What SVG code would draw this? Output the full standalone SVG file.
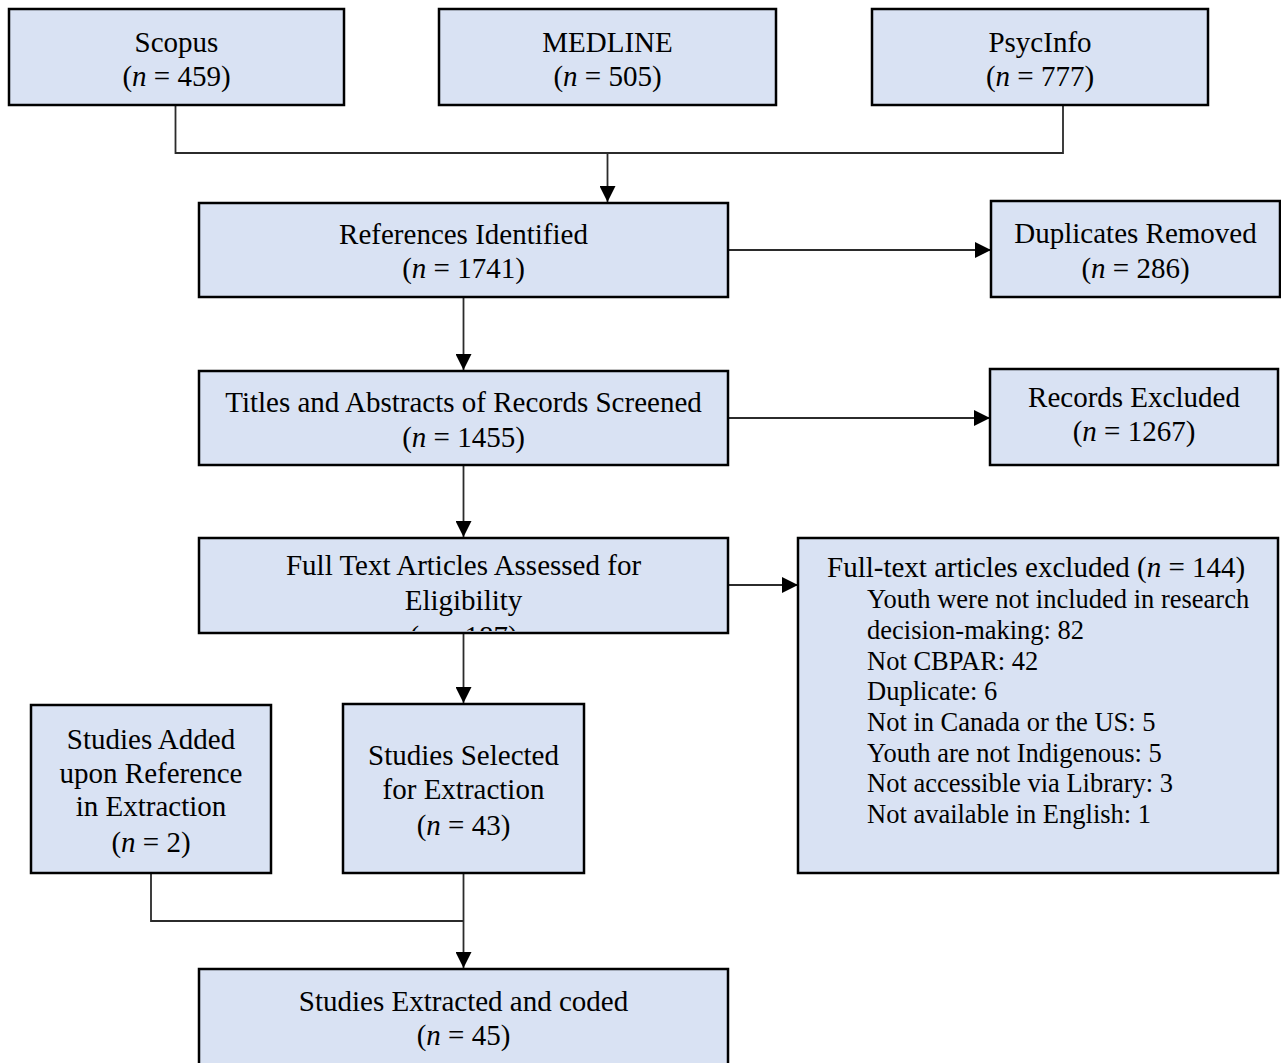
<svg xmlns="http://www.w3.org/2000/svg" width="1281" height="1063" viewBox="0 0 1281 1063">
<style>
.box{fill:#D9E2F3;stroke:#000;stroke-width:2.5}
.t{font-family:"Liberation Serif","Times New Roman",serif;font-size:29px;fill:#000;text-anchor:middle}
.l{font-family:"Liberation Serif","Times New Roman",serif;font-size:26.5px;fill:#000}
.h{font-family:"Liberation Serif","Times New Roman",serif;font-size:29px;fill:#000}
.i{font-style:italic}
.c{fill:none;stroke:#2b2b2b;stroke-width:1.8}
</style>
<defs>
<marker id="arr" markerUnits="userSpaceOnUse" markerWidth="16" markerHeight="16" refX="16" refY="8" orient="auto">
<path d="M0,0 L16,8 L0,16 z" fill="#000"/>
</marker>
<clipPath id="clipFT"><rect x="199" y="538" width="529" height="93"/></clipPath>
</defs>
<g id="connectors">
<path class="c" d="M175.5 105 V153 H1063 V105"/>
<path class="c" d="M607.5 153 V202" marker-end="url(#arr)"/>
<path class="c" d="M728 250 H991" marker-end="url(#arr)"/>
<path class="c" d="M463.5 297 V370" marker-end="url(#arr)"/>
<path class="c" d="M728 418 H990" marker-end="url(#arr)"/>
<path class="c" d="M463.5 465 V537" marker-end="url(#arr)"/>
<path class="c" d="M728 585 H798" marker-end="url(#arr)"/>
<path class="c" d="M463.5 633 V703" marker-end="url(#arr)"/>
<path class="c" d="M151 873 V921 H463.5"/>
<path class="c" d="M463.5 873 V968" marker-end="url(#arr)"/>
</g>
<g id="scopus">
<rect class="box" x="9" y="9" width="335" height="96"/>
<text class="t" x="176.5" y="52">Scopus</text>
<text class="t" x="176.5" y="86">(<tspan class="i">n</tspan> = 459)</text>
</g>
<g id="medline">
<rect class="box" x="439" y="9" width="337" height="96"/>
<text class="t" x="607.5" y="52">MEDLINE</text>
<text class="t" x="607.5" y="86">(<tspan class="i">n</tspan> = 505)</text>
</g>
<g id="psycinfo">
<rect class="box" x="872" y="9" width="336" height="96"/>
<text class="t" x="1040" y="52">PsycInfo</text>
<text class="t" x="1040" y="86">(<tspan class="i">n</tspan> = 777)</text>
</g>
<g id="references">
<rect class="box" x="199" y="203" width="529" height="94"/>
<text class="t" x="463.5" y="244">References Identified</text>
<text class="t" x="463.5" y="278">(<tspan class="i">n</tspan> = 1741)</text>
</g>
<g id="duplicates">
<rect class="box" x="991" y="201" width="289" height="96"/>
<text class="t" x="1135.5" y="243">Duplicates Removed</text>
<text class="t" x="1135.5" y="278">(<tspan class="i">n</tspan> = 286)</text>
</g>
<g id="titles">
<rect class="box" x="199" y="371" width="529" height="94"/>
<text class="t" x="463.5" y="412">Titles and Abstracts of Records Screened</text>
<text class="t" x="463.5" y="447">(<tspan class="i">n</tspan> = 1455)</text>
</g>
<g id="records-excluded">
<rect class="box" x="990" y="369" width="288" height="96"/>
<text class="t" x="1134" y="407">Records Excluded</text>
<text class="t" x="1134" y="441">(<tspan class="i">n</tspan> = 1267)</text>
</g>
<g id="fulltext">
<rect class="box" x="199" y="538" width="529" height="95"/>
<g clip-path="url(#clipFT)">
<text class="t" x="463.5" y="575">Full Text Articles Assessed for</text>
<text class="t" x="463.5" y="610">Eligibility</text>
<text class="t" x="463.5" y="646">(<tspan class="i">n</tspan> = 187)</text>
</g>
</g>
<g id="fulltext-excluded">
<rect class="box" x="798" y="538" width="480" height="335"/>
<text class="h" x="827" y="577">Full-text articles excluded (<tspan class="i">n</tspan> = 144)</text>
<text class="l" x="867" y="608">Youth were not included in research</text>
<text class="l" x="867" y="639">decision-making: 82</text>
<text class="l" x="867" y="669.5">Not CBPAR: 42</text>
<text class="l" x="867" y="700">Duplicate: 6</text>
<text class="l" x="867" y="731">Not in Canada or the US: 5</text>
<text class="l" x="867" y="761.5">Youth are not Indigenous: 5</text>
<text class="l" x="867" y="792">Not accessible via Library: 3</text>
<text class="l" x="867" y="823">Not available in English: 1</text>
</g>
<g id="studies-added">
<rect class="box" x="31" y="705" width="240" height="168"/>
<text class="t" x="151" y="749">Studies Added</text>
<text class="t" x="151" y="783">upon Reference</text>
<text class="t" x="151" y="816">in Extraction</text>
<text class="t" x="151" y="852">(<tspan class="i">n</tspan> = 2)</text>
</g>
<g id="studies-selected">
<rect class="box" x="343" y="704" width="241" height="169"/>
<text class="t" x="463.5" y="765">Studies Selected</text>
<text class="t" x="463.5" y="799">for Extraction</text>
<text class="t" x="463.5" y="835">(<tspan class="i">n</tspan> = 43)</text>
</g>
<g id="studies-extracted">
<rect class="box" x="199" y="969" width="529" height="110"/>
<text class="t" x="463.5" y="1011">Studies Extracted and coded</text>
<text class="t" x="463.5" y="1045">(<tspan class="i">n</tspan> = 45)</text>
</g>
</svg>
